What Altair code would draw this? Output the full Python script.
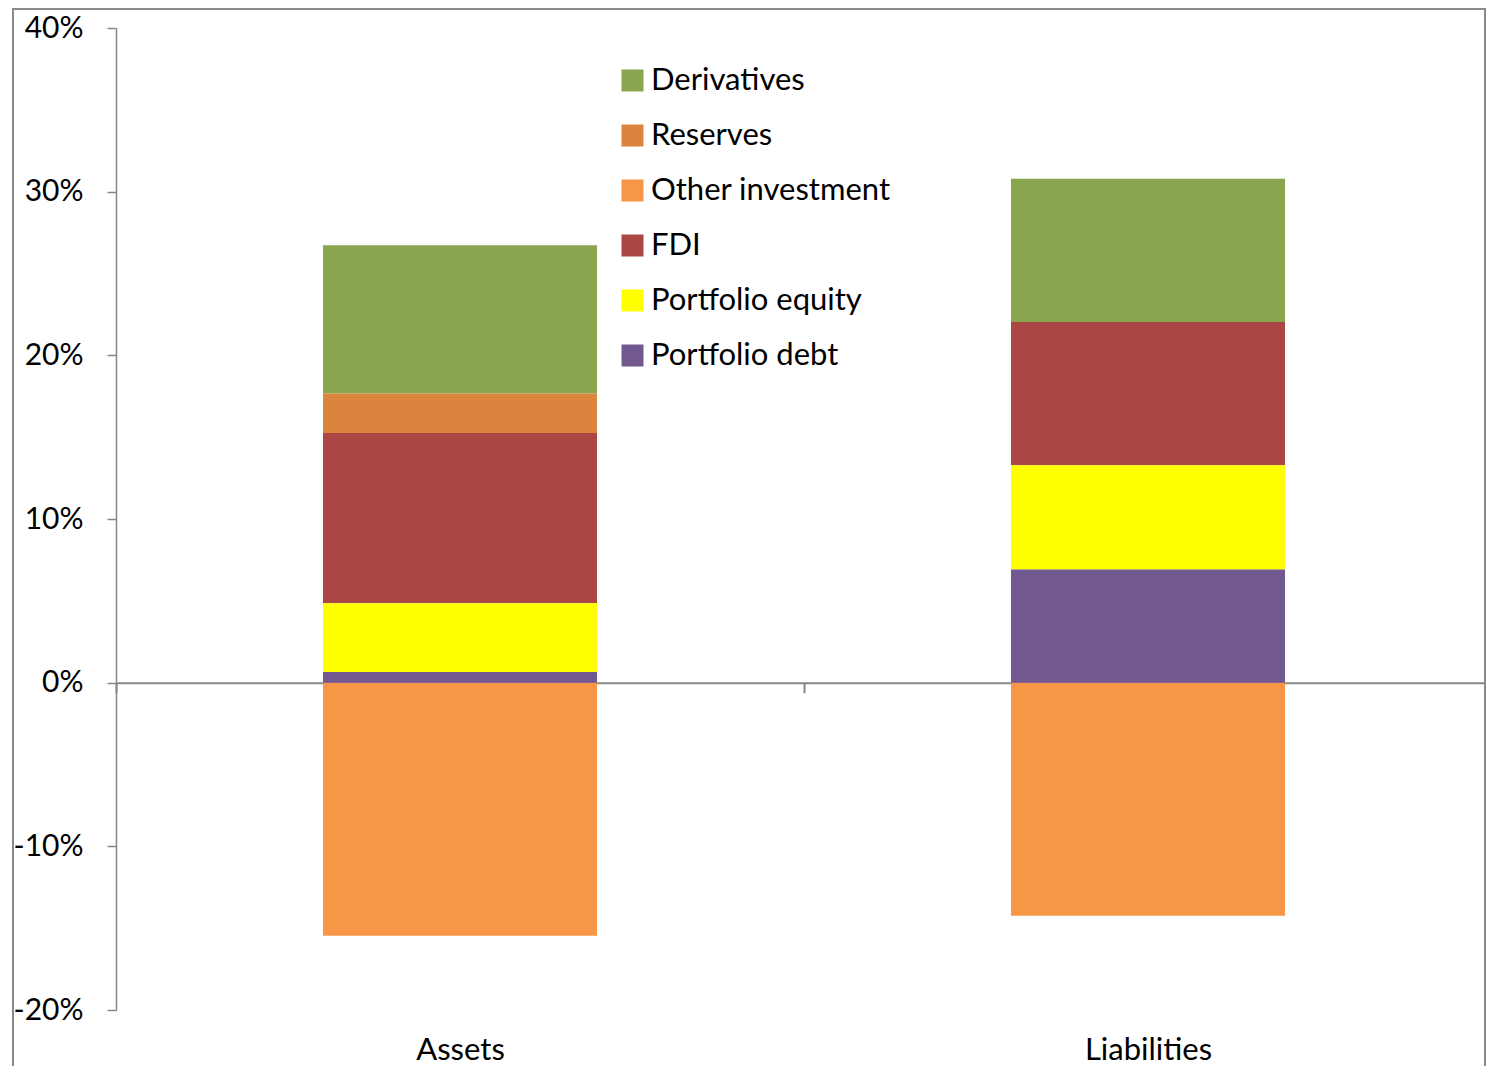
import altair as alt
import pandas as pd

categories = ["Assets", "Liabilities"]
components = ["Derivatives", "Reserves", "Other investment", "FDI", "Portfolio equity", "Portfolio debt"]
colors = ["#89A54E", "#DB843D", "#F79646", "#AA4643", "#FFFF00", "#71588F"]
# stacking order from the zero line outward
stack_order = ["Portfolio debt", "Portfolio equity", "FDI", "Other investment", "Reserves", "Derivatives"]

assets = {"Derivatives": 9.05, "Reserves": 2.41, "Other investment": -15.46,
          "FDI": 10.41, "Portfolio equity": 4.20, "Portfolio debt": 0.65}
liabilities = {"Derivatives": 8.75, "Reserves": 0.0, "Other investment": -14.24,
               "FDI": 8.75, "Portfolio equity": 6.37, "Portfolio debt": 6.92}

y_ticks = [-20, -10, 0, 10, 20, 30, 40]

rows = []
for cat, vals in zip(categories, [assets, liabilities]):
    for comp in components:
        rows.append({"category": cat, "component": comp, "value": vals[comp],
                     "order": stack_order.index(comp)})
df = pd.DataFrame(rows)

FONT = "Lato"
W, H = 1368, 982
FULL_W = 1376

bars = alt.Chart(df).mark_bar(size=274).encode(
    x=alt.X("category:N", sort=categories, title=None,
            scale=alt.Scale(paddingInner=0, paddingOuter=0, range=[0, FULL_W]),
            axis=alt.Axis(orient="bottom", offset=-(H - 654.7), domainColor="#868686",
                          domainWidth=2, tickColor="#868686", tickWidth=2, tickSize=10,
                          tickBand="extent", labelAngle=0, labelFontSize=31,
                          labelFont=FONT, labelColor="black", labelPadding=343)),
    y=alt.Y("value:Q", stack="zero", title=None,
            scale=alt.Scale(domain=[-20, 40], nice=False, zero=False),
            axis=alt.Axis(values=y_ticks, labelExpr="datum.value + '%'", grid=False,
                          domainColor="#868686", domainWidth=1.5, tickColor="#868686",
                          tickWidth=1.5, tickSize=9, labelFont=FONT, labelFontSize=30,
                          labelColor="black", labelPadding=24)),
    color=alt.Color("component:N", title=None,
                    scale=alt.Scale(domain=components, range=colors),
                    legend=alt.Legend(orient="none", legendX=501, legendY=37,
                                      symbolType="square", symbolSize=484,
                                      symbolStrokeWidth=0, labelFont=FONT,
                                      labelFontSize=31, labelColor="black", labelLimit=0,
                                      rowPadding=23, padding=0, labelOffset=3)),
    order=alt.Order("order:Q", sort="ascending"),
)

frame = alt.Chart(pd.DataFrame({"a": [0]})).mark_rect(
    fill=None, stroke="#8a8a8a", strokeWidth=2, clip=False
).encode(x=alt.value(-103), x2=alt.value(W + 1), y=alt.value(-19), y2=alt.value(H + 100))

chart = alt.layer(frame, bars).properties(
    width=W, height=H,
    background="white",
    autosize=alt.AutoSizeParams(type="none"),
    padding={"left": 108, "top": 20, "right": 2, "bottom": 56},
).configure_view(strokeWidth=0, stroke="transparent")

chart.save("out.html", embed_options={"renderer": "svg", "actions": False})
